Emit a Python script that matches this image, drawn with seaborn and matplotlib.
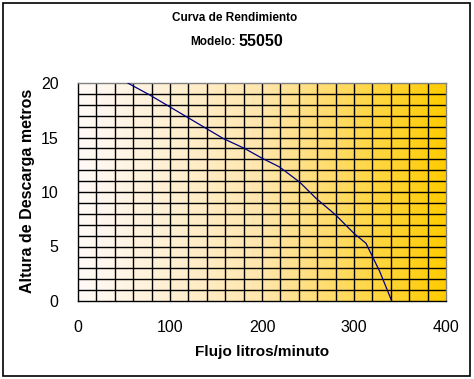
import numpy as np
import pandas as pd
import matplotlib
matplotlib.use("Agg")
import matplotlib.pyplot as plt
from matplotlib.colors import LinearSegmentedColormap
from matplotlib.patches import Rectangle
import seaborn as sns

# Data
flujo = [54, 78, 100, 136, 158, 181, 200, 219, 241, 259, 280, 300, 313, 328, 341]
altura = [20, 18.9, 17.8, 16.0, 14.9, 14.0, 13.1, 12.3, 10.9, 9.4, 7.9, 6.2, 5.3, 2.7, 0]
x_ticks = [0, 100, 200, 300, 400]
y_ticks = [0, 5, 10, 15, 20]
title1 = "Curva de Rendimiento"
title2a = "Modelo:"
title2b = "55050"
xlabel = "Flujo litros/minuto"
ylabel = "Altura de Descarga metros"

sns.set_theme(style="white")
plt.rcParams['font.family'] = ['Liberation Sans', 'DejaVu Sans']
plt.rcParams['text.color'] = 'black'

df = pd.DataFrame({"flujo": flujo, "altura": altura})

fig = plt.figure(figsize=(4.74, 3.79), dpi=100)
fig.patch.set_facecolor("white")
ax = fig.add_axes([78/474, 1-301/379, 368/474, 218/379])

# gradient background
cmap = LinearSegmentedColormap.from_list(
    "grad", [(0.0, "#FFFAF8"), (0.5, "#FFE6AC"), (1.0, "#FFCC00")])
grad = np.linspace(0, 1, 256).reshape(1, -1)
ax.imshow(grad, cmap=cmap, aspect="auto", extent=[0, 400, 0, 20],
          zorder=0, interpolation="bilinear")

# grid
for gx in range(20, 400, 20):
    ax.axvline(gx, color="black", lw=1.0, zorder=1)
for gy in range(1, 20):
    ax.axhline(gy, color="black", lw=1.0, zorder=1)

sns.lineplot(data=df, x="flujo", y="altura", ax=ax, color="#000080",
             lw=0.9, zorder=3)

ax.set_xlim(0, 400)
ax.set_ylim(0, 20)
ax.set_xticks(x_ticks)
ax.set_yticks(y_ticks)
ax.tick_params(axis="both", which="major", direction="out", length=4,
               width=1, color="black", labelsize=11.5, labelcolor="black")
ax.tick_params(axis="x", pad=10)
ax.tick_params(axis="y", pad=10)
ax.set_xlabel("")
ax.set_ylabel("")
for s in ["left", "bottom"]:
    ax.spines[s].set_color("black")
    ax.spines[s].set_linewidth(1)
for s in ["top", "right"]:
    ax.spines[s].set_color("#808080")
    ax.spines[s].set_linewidth(1)

fig.text(235/474, 1-18/379, title1, ha="center", va="center",
         fontsize=8.5, fontweight="bold", color="black")
fig.text(236/474, 1-42/379, title2a, ha="right", va="center",
         fontsize=8.5, fontweight="bold", color="black")
fig.text(239/474, 1-41/379, title2b, ha="left", va="center",
         fontsize=11.5, fontweight="bold", color="black")
fig.text(262/474, 1-352/379, xlabel, ha="center", va="center",
         fontsize=11, fontweight="bold", color="black")
fig.text(28/474, 1-191/379, ylabel, ha="center", va="center",
         fontsize=11.5, fontweight="bold", rotation=90, color="black")

fig.patches.append(Rectangle((3/474, 3/379), 467/474, 373/379,
                             transform=fig.transFigure, fill=False,
                             edgecolor="black", lw=1.2))

fig.savefig("out.png", dpi=100)
